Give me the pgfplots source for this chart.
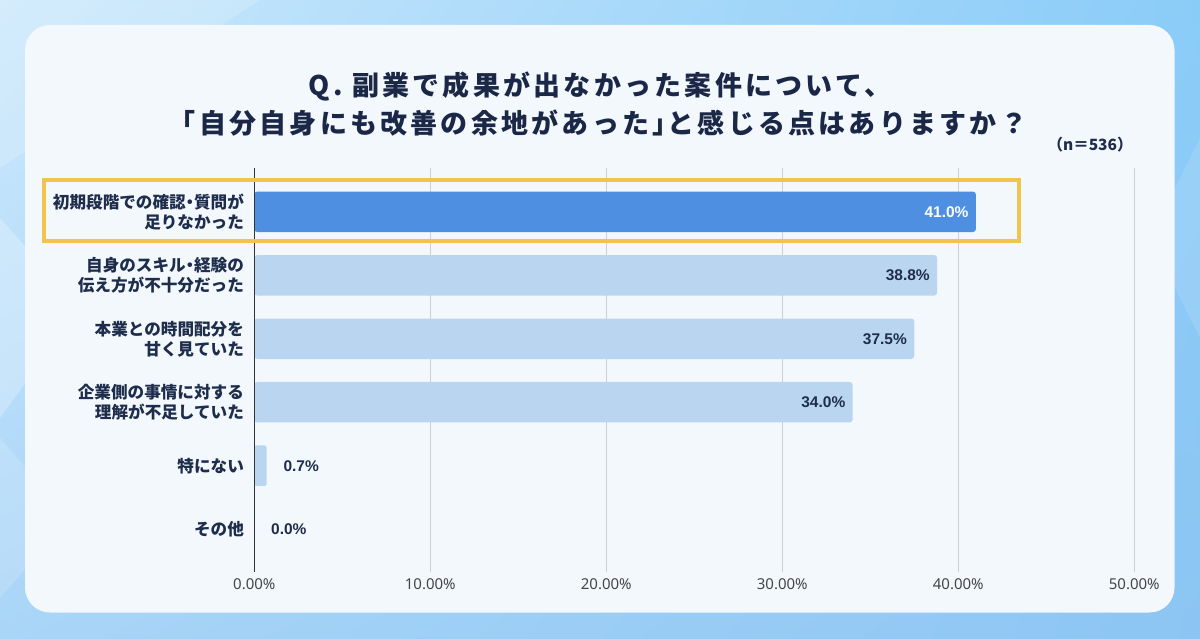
\documentclass[border=0pt]{standalone}
\usepackage{fontspec}
\usepackage{pgfplots}
\pgfplotsset{compat=1.18}
\usetikzlibrary{shadings}
\setmainfont{Noto Sans CJK JP}
\newfontfamily\titlefont[LetterSpace=12]{Noto Sans CJK JP}
\newfontfamily\tickfont{Noto Sans}
\newfontfamily\numfont{Liberation Sans}
\newcommand{\nakaguro}{\kern-0.25em・\kern-0.25em}
\definecolor{navy}{HTML}{1B2747}
\definecolor{labnavy}{HTML}{1F2D4D}
\definecolor{hibar}{HTML}{4F8FE2}
\definecolor{lobar}{HTML}{BAD5F0}
\definecolor{gold}{HTML}{F1C54D}
\definecolor{card}{HTML}{F3F8FD}
\definecolor{gridc}{HTML}{CFCFCF}
\definecolor{tickgray}{HTML}{454545}
\definecolor{bgul}{HTML}{CBE8FC}
\definecolor{bgur}{HTML}{8ACCF8}
\definecolor{bgll}{HTML}{A9D5F7}
\definecolor{bglr}{HTML}{8CC5F3}
\begin{document}
\begin{tikzpicture}[x=0.5pt,y=0.5pt]
% background
\shade[upper left=bgul, upper right=bgur, lower left=bgll, lower right=bglr] (0,0) rectangle (1200,638);
\fill[white,opacity=0.25] (0,420) -- (80,330) -- (0,220) -- cycle;
\fill[white,opacity=0.18] (0,638) -- (260,638) -- (0,470) -- cycle;
\fill[white,opacity=0.15] (0,200) -- (70,120) -- (0,40) -- cycle;
\fill[white,opacity=0.12] (1200,500) -- (1150,400) -- (1200,300) -- cycle;
% card
\fill[card, rounded corners=12.5pt] (25,25.5) rectangle (1174.5,613);
\begin{axis}[
  at={(127.15pt,33.15pt)}, anchor=south west,
  scale only axis, width=440pt, height=201.85pt,
  xmin=0, xmax=50, ymin=-0.69, ymax=5.67, y dir=reverse,
  xbar, bar width=20.25pt,
  /pgf/number format/assume math mode=true,
  axis line style={draw=none},
  major tick length=0pt,
  xmajorgrids, major grid style={draw=gridc, line width=0.5pt},
  xtick={0,10,20,30,40,50},
  xticklabels={0.00\%,10.00\%,20.00\%,30.00\%,40.00\%,50.00\%},
  xticklabel style={font=\tickfont\fontsize{7.5}{9}\selectfont, text=tickgray, anchor=center, inner sep=0pt, yshift=-6.2pt},
  ytick={0,1,2,3,4,5},
  yticklabels={{初期段階での確認\nakaguro 質問が\\足りなかった},{自身のスキル\nakaguro 経験の\\伝え方が不十分だった},{本業との時間配分を\\甘く見ていた},{企業側の事情に対する\\理解が不足していた},{特にない},{その他}},
  yticklabel style={font=\bfseries\fontsize{8.3}{10}\selectfont, text=labnavy, align=right, anchor=east, inner sep=0pt, xshift=-5pt},
  clip=false,
]
\addplot[bar shift=0pt, fill=hibar, draw=none, rounded corners=1.5pt,
  nodes near coords={\pgfmathprintnumber[fixed,fixed zerofill,precision=1]{\pgfplotspointmeta}\%},
  every node near coord/.append style={font=\numfont\bfseries\fontsize{7.75}{9.3}\selectfont, text=white, anchor=east, xshift=-3.5pt, inner sep=0pt}]
  coordinates {(41.0,0)};
\addplot[bar shift=0pt, fill=lobar, draw=none, rounded corners=1.5pt,
  nodes near coords={\pgfmathprintnumber[fixed,fixed zerofill,precision=1]{\pgfplotspointmeta}\%},
  every node near coord/.append style={font=\numfont\bfseries\fontsize{7.75}{9.3}\selectfont, text=labnavy, anchor=east, xshift=-3.5pt, inner sep=0pt}]
  coordinates {(38.8,1) (37.5,2) (34.0,3)};
\addplot[bar shift=0pt, fill=lobar, draw=none, rounded corners=1pt,
  nodes near coords={\pgfmathprintnumber[fixed,fixed zerofill,precision=1]{\pgfplotspointmeta}\%},
  every node near coord/.append style={font=\numfont\bfseries\fontsize{7.75}{9.3}\selectfont, text=labnavy, anchor=west, xshift=8.25pt, inner sep=0pt}]
  coordinates {(0.7,4) (0.0,5)};
\draw[black!80, line width=0.6pt] (axis cs:0,-0.69) -- (axis cs:0,5.67);
\end{axis}
% highlight box
\draw[gold, line width=2pt] (44,458) rectangle (1019,397);
% title
\node[font=\titlefont\bfseries\fontsize{13.5}{16}\selectfont, text=navy] at (600,552) {Q. 副業で成果が出なかった案件について、};
\node[font=\titlefont\bfseries\fontsize{13.5}{16}\selectfont, text=navy] at (598,515) {「自分自身にも改善の余地があった」\kern-0.45em と感じる点はありますか？};
\node[anchor=east, font=\bfseries\fontsize{7.75}{9}\selectfont, text=labnavy, inner sep=0pt] at (1133,493) {（n＝536）};
\end{tikzpicture}
\end{document}
